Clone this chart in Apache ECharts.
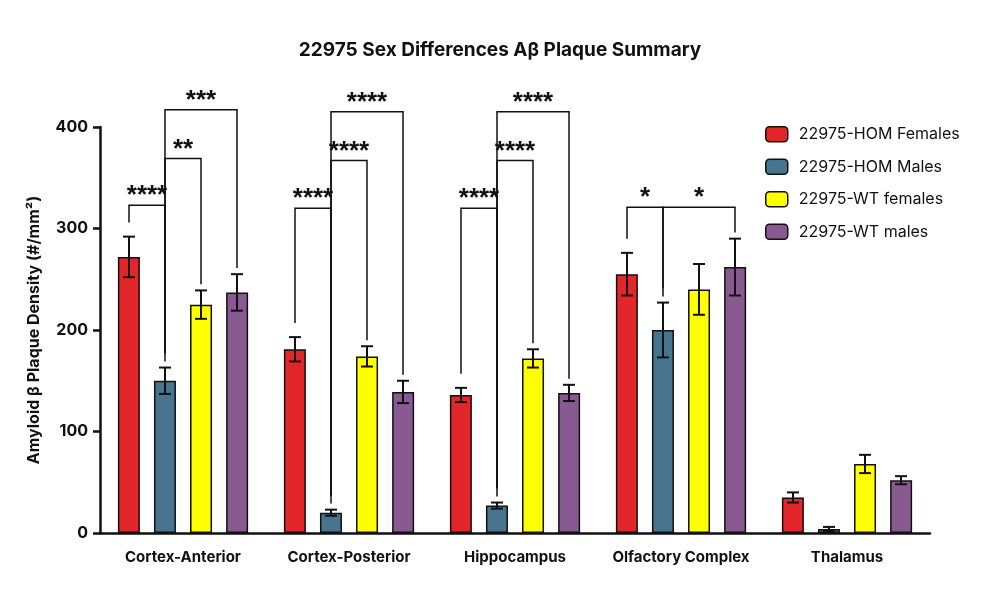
<!DOCTYPE html><html><head><meta charset="utf-8">
<script src="https://cdn.jsdelivr.net/npm/echarts@6/dist/echarts.min.js"></script>
<style>body{margin:0}#c{width:1000px;height:600px}</style></head><body><div id="c"></div>
<script>
const categories=['Cortex-Anterior','Cortex-Posterior','Hippocampus','Olfactory Complex','Thalamus'];
const seriesNames=['22975-HOM Females','22975-HOM Males','22975-WT females','22975-WT males'];
const colors=['#e3262a','#47758f','#ffff00','#885a91'];
const homF=[272,181,136,255,35];
const homM=[150,20,27,200,4];
const wtF=[225,174,172,240,68];
const wtM=[237,139,138,262,52];
const homFErr=[20,12,7,21,5];
const homMErr=[13,3,3,27,2];
const wtFErr=[14,10,9,25,9];
const wtMErr=[18,11,8,28,4];
// [category, fromBar, toBar, level, label]
const brackets=[
 [0,0,1,323,'****'],[0,1,2,369,'**'],[0,1,3,417,'***'],
 [1,0,1,320,'****'],[1,1,2,367,'****'],[1,1,3,415,'****'],
 [2,0,1,320,'****'],[2,1,2,367,'****'],[2,1,3,415,'****'],
 [3,0,1,321,'*'],[3,1,3,321,'*']
];
const vals=[homF,homM,wtF,wtM], errs=[homFErr,homMErr,wtFErr,wtMErr];
const OFF=36;
const errData=[];
vals.forEach((v,i)=>v.forEach((y,c)=>errData.push([c,i,y,errs[i][c]])));
const ch=echarts.init(document.getElementById('c'));
const bars=seriesNames.map((n,i)=>({name:n,type:'bar',data:vals[i],barWidth:22,barGap:'64%',
 itemStyle:{color:colors[i],borderColor:'#111',borderWidth:1.5}}));
ch.setOption({
 animation:false,
 title:{text:'22975 Sex Differences Aβ Plaque Summary',left:'center',top:36,textStyle:{fontFamily:'Inter',fontSize:19,fontWeight:'bold',color:'#111'}},
 legend:{data:seriesNames,orient:'vertical',left:760,top:121,itemWidth:22,itemHeight:15,itemGap:16,
  textStyle:{fontFamily:'Inter',fontSize:16,color:'#111',padding:[0,0,0,6]},itemStyle:{borderColor:'#111',borderWidth:1.5}},
 grid:{left:100,right:70,top:127,bottom:67},
 xAxis:{type:'category',data:categories,axisLine:{lineStyle:{color:'#111',width:2.5}},axisTick:{show:false},
  axisLabel:{interval:0,fontFamily:'Inter',fontWeight:'bold',fontSize:15,color:'#111',margin:17}},
 yAxis:{type:'value',min:0,max:400,interval:100,name:'Amyloid β Plaque Density (#/mm²)',nameLocation:'middle',nameGap:58,
  nameTextStyle:{fontFamily:'Inter',fontWeight:'bold',fontSize:16,color:'#111'},
  axisLine:{show:true,lineStyle:{color:'#111',width:2.5}},axisTick:{show:true,length:7,lineStyle:{width:2.5}},splitLine:{show:false},
  axisLabel:{fontFamily:'Inter',fontWeight:'bold',fontSize:16,color:'#111',margin:12}},
 series:[...bars,
 {type:'custom',data:errData,clip:false,z:5,renderItem:(p,api)=>{
   const c=api.value(0),i=api.value(1),y=api.value(2),e=api.value(3);
   const x=api.coord([c,0])[0]+(i-1.5)*OFF;
   const t=api.coord([c,y+e])[1],b=api.coord([c,y-e])[1];
   const st={stroke:'#111',lineWidth:2};
   return {type:'group',children:[
    {type:'line',shape:{x1:x,y1:t,x2:x,y2:b},style:st},
    {type:'line',shape:{x1:x-6,y1:t,x2:x+6,y2:t},style:st},
    {type:'line',shape:{x1:x-6,y1:b,x2:x+6,y2:b},style:st}]};
 }},
 {type:'custom',data:brackets,clip:false,z:6,renderItem:(p,api)=>{
   const d=brackets[p.dataIndex];
   const c=d[0],a=d[1],b=d[2],lv=d[3];
   const cx=api.coord([c,0])[0];
   const xa=cx+(a-1.5)*OFF,xb=cx+(b-1.5)*OFF;
   const yl=api.coord([c,lv])[1];
   const ya=api.coord([c,vals[a][c]+errs[a][c]+14])[1];
   const yb=api.coord([c,vals[b][c]+errs[b][c]+6])[1];
   const st={stroke:'#111',lineWidth:1.5,fill:null};
   return {type:'group',children:[
    {type:'polyline',shape:{points:[[xa,ya],[xa,yl],[xb,yl],[xb,yb]]},style:st},
    {type:'text',style:{text:d[4],x:(xa+xb)/2,y:yl+4,textAlign:'center',textVerticalAlign:'bottom',
      font:'bold 26px "Liberation Sans"',fill:'#111'}}]};
 }}]
});
</script></body></html>
